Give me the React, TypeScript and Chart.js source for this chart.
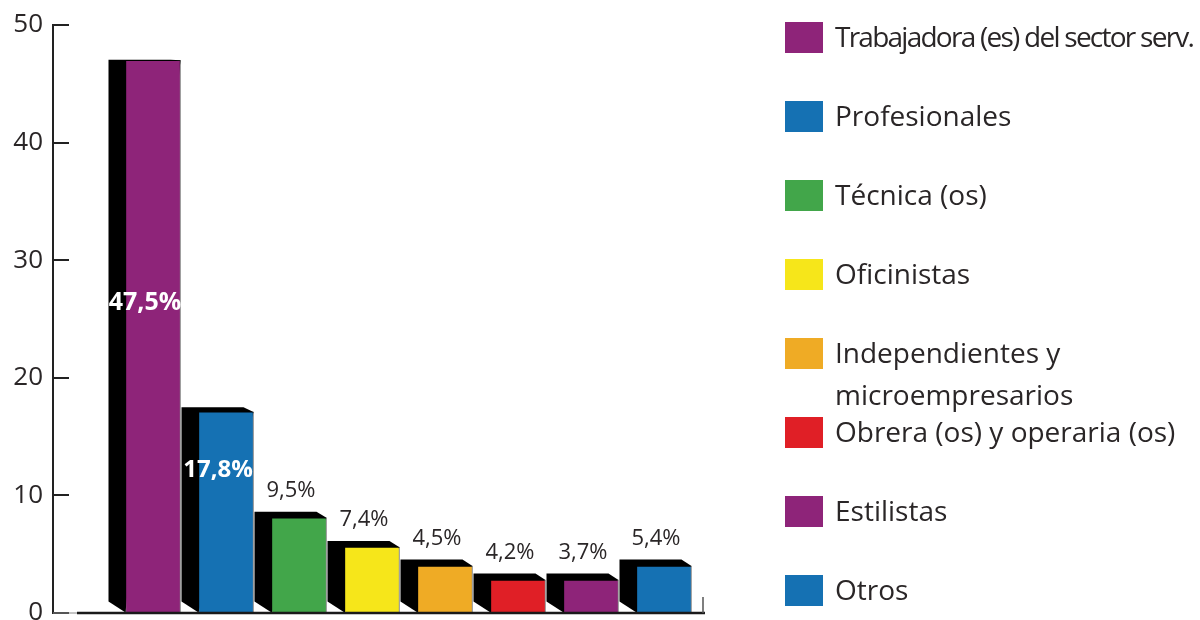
import React, { useEffect, useRef } from "react";
import { Chart, registerables } from "chart.js";

Chart.register(...registerables);

// ---- data ----
const categories = [
  "Trabajadora (es) del sector serv.",
  "Profesionales",
  "Técnica (os)",
  "Oficinistas",
  "Independientes y\nmicroempresarios",
  "Obrera (os) y operaria (os)",
  "Estilistas",
  "Otros",
];
const barValues = [47.0, 17.1, 8.1, 5.6, 4.0, 2.8, 2.8, 4.0];
const valueLabels = ["47,5%", "17,8%", "9,5%", "7,4%", "4,5%", "4,2%", "3,7%", "5,4%"];
const barColors = [
  "#8e2479",
  "#1571b3",
  "#42a64a",
  "#f6e61a",
  "#efab25",
  "#e01f26",
  "#8e2479",
  "#1571b3",
];
const yTicks = [0, 10, 20, 30, 40, 50];

// ---- styles ----
const FONT = "'Open Sans', 'Noto Sans', sans-serif";
const TEXT = "#2a2627";
const DX = 17; // side depth
const insideLabelFrac = [0.44, 0.29];

const depthPlugin = {
  id: "depth3d",
  beforeDatasetsDraw(chart: any) {
    const ctx = chart.ctx;
    const area = chart.chartArea;
    const meta = chart.getDatasetMeta(0);
    ctx.save();
    ctx.fillStyle = "#000";
    meta.data.forEach((bar: any) => {
      const { x, y, base, width } = bar.getProps(["x", "y", "base", "width"], true);
      const x0 = x - width / 2;
      const x1 = x + width / 2;
      const h = (base - y) / (base - area.top);
      const dyTop = 7 * (1 - h);
      ctx.beginPath();
      ctx.moveTo(x1, y);
      ctx.lineTo(x1 - 10, y - dyTop);
      ctx.lineTo(x0 - DX, y - dyTop);
      ctx.lineTo(x0 - DX, base - 11);
      ctx.lineTo(x0, base);
      ctx.closePath();
      ctx.fill();
    });
    ctx.restore();
  },
  afterDatasetsDraw(chart: any) {
    const ctx = chart.ctx;
    const area = chart.chartArea;
    const yScale = chart.scales.y;
    const base = yScale.getPixelForValue(0);
    ctx.save();
    // inward tick marks on y axis
    ctx.strokeStyle = "#222";
    ctx.lineWidth = 2;
    yTicks.forEach((t) => {
      const py = Math.round(yScale.getPixelForValue(t));
      ctx.beginPath();
      ctx.moveTo(area.left, py);
      ctx.lineTo(area.left + 16, py);
      ctx.stroke();
    });
    // x axis baseline
    ctx.strokeStyle = "#888";
    ctx.lineWidth = 1;
    ctx.beginPath();
    ctx.moveTo(area.left, base);
    ctx.lineTo(area.left + 24, base);
    ctx.stroke();
    ctx.strokeStyle = "#1a1a1a";
    ctx.lineWidth = 2.5;
    ctx.beginPath();
    ctx.moveTo(area.left + 24, base);
    ctx.lineTo(area.right, base);
    ctx.stroke();
    ctx.strokeStyle = "#555";
    ctx.lineWidth = 1.5;
    ctx.beginPath();
    ctx.moveTo(area.right - 2, base);
    ctx.lineTo(area.right - 2, base - 16);
    ctx.stroke();

    // value labels
    const meta = chart.getDatasetMeta(0);
    ctx.textAlign = "center";
    ctx.textBaseline = "middle";
    meta.data.forEach((bar: any, i: number) => {
      const { x, y, base: b } = bar.getProps(["x", "y", "base"], true);
      if (i < insideLabelFrac.length) {
        ctx.fillStyle = "#ffffff";
        ctx.font = `bold ${i === 0 ? 25 : 24}px ${FONT}`;
        ctx.fillText(valueLabels[i], x - 8, y + (b - y) * insideLabelFrac[i]);
      } else {
        ctx.fillStyle = TEXT;
        ctx.font = `22px ${FONT}`;
        ctx.fillText(valueLabels[i], x - 8, y - 27);
      }
    });
    ctx.restore();
  },
};

export default function App() {
  const ref = useRef<HTMLCanvasElement | null>(null);

  useEffect(() => {
    document.body.style.margin = "0";
    const canvas = ref.current;
    if (!canvas) return;
    const chart = new Chart(canvas, {
      type: "bar",
      data: {
        labels: categories,
        datasets: [
          {
            data: barValues.map((v, i) => ({ x: i, y: v })),
            backgroundColor: barColors,
            borderColor: "rgba(0,0,0,0.55)",
            borderWidth: 1,
            barThickness: 55,
          },
        ],
      },
      options: {
        animation: false,
        responsive: false,
        maintainAspectRatio: false,
        layout: { padding: { left: 0, top: 25, right: 495, bottom: 7 } },
        plugins: {
          legend: { display: false },
          tooltip: { enabled: false },
        },
        scales: {
          x: {
            type: "linear",
            offset: false,
            min: -1.37,
            max: 7.562,
            display: false,
          },
          y: {
            min: 0,
            max: 50,
            afterFit: (s: any) => {
              s.width = 53;
              s.paddingTop = 0;
              s.paddingBottom = 0;
            },
            afterBuildTicks: (s: any) => {
              s.ticks = yTicks.map((v) => ({ value: v }));
            },
            grid: { display: true, drawOnChartArea: false, drawTicks: false },
            border: { display: true, color: "#222", width: 2 },
            ticks: {
              padding: 10,
              color: TEXT,
              font: { family: FONT, size: 26 },
            },
          },
        },
      },
      plugins: [depthPlugin],
    } as any);
    return () => chart.destroy();
  }, []);

  return (
    <div style={{ position: "absolute", left: 0, top: 0, width: 1200, height: 620, background: "#fff", overflow: "hidden" }}>
      <canvas ref={ref} width={1200} height={620} style={{ position: "absolute", left: 0, top: 0 }} />
      {categories.map((c, i) => (
        <div key={i}>
          <div
            style={{
              position: "absolute",
              left: 785,
              top: 22 + 79 * i,
              width: 38,
              height: 31,
              background: barColors[i],
            }}
          />
          <div
            style={{
              position: "absolute",
              left: 835,
              top: 22 + 79 * i + 15.5 - 23,
              fontFamily: FONT,
              fontSize: 28,
              lineHeight: "42px",
              color: TEXT,
              whiteSpace: "pre",
              letterSpacing: i === 0 ? "-1.75px" : "0px",
            }}
          >
            {c}
          </div>
        </div>
      ))}
    </div>
  );
}
